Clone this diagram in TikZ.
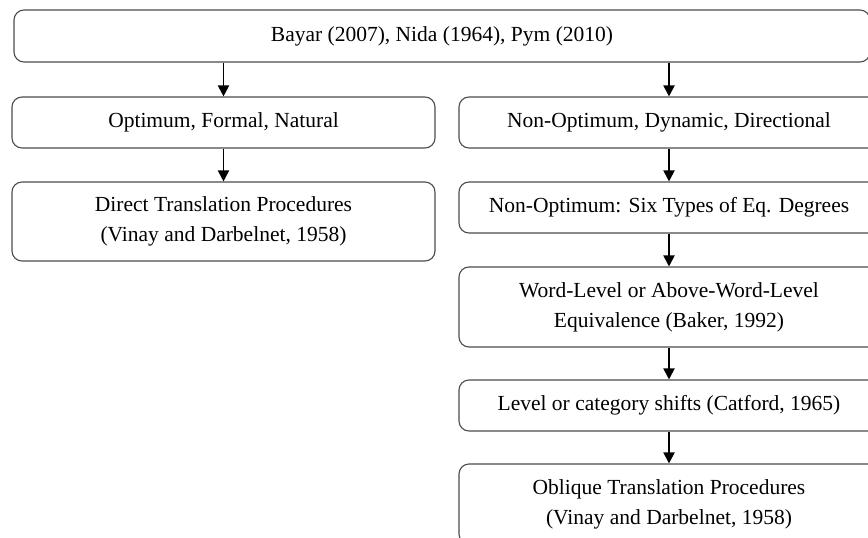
\documentclass[tikz,border=0pt]{standalone}
\usepackage{fontspec}
\setmainfont{Liberation Serif}
\usetikzlibrary{arrows.meta}
\begin{document}
\begin{tikzpicture}[x=1pt,y=-1pt,
  box/.style={draw=black!70, line width=1.1pt, rounded corners=10pt, inner sep=0pt, align=center, font=\fontsize{21.5}{30}\selectfont},
  arr/.style={line width=1.9pt, -{Triangle[width=11pt,length=11pt]}}]
\useasboundingbox (0,0) rectangle (868,538);
\clip (0,0) rectangle (868,538);
\node[box, minimum width=856pt, minimum height=52pt] (top) at (442,36) {Bayar (2007), Nida (1964), Pym (2010)};
\node[box, minimum width=423pt, minimum height=51pt] (l2) at (223.5,122.5) {Optimum, Formal, Natural};
\node[box, minimum width=423pt, minimum height=79pt] (l3) at (223.5,221.5) {Direct Translation Procedures\\(Vinay and Darbelnet, 1958)};
\node[box, minimum width=420pt, minimum height=51pt] (r2) at (669,122.5) {Non-Optimum, Dynamic, Directional};
\node[box, minimum width=420pt, minimum height=51pt] (r3) at (669,207.5) {Non-Optimum: Six Types of Eq. Degrees};
\node[box, minimum width=420pt, minimum height=80pt] (r4) at (669,307) {Word-Level or Above-Word-Level\\Equivalence (Baker, 1992)};
\node[box, minimum width=420pt, minimum height=51pt] (r5) at (669,405.5) {Level or category shifts (Catford, 1965)};
\node[box, minimum width=420pt, minimum height=80pt] (r6) at (669,504) {Oblique Translation Procedures\\(Vinay and Darbelnet, 1958)};
\draw[arr] (top.south -| l2.north) -- (l2.north);
\draw[arr] (top.south -| r2.north) -- (r2.north);
\draw[arr] (l2.south) -- (l3.north);
\draw[arr] (r2.south) -- (r3.north);
\draw[arr] (r3.south) -- (r4.north);
\draw[arr] (r4.south) -- (r5.north);
\draw[arr] (r5.south) -- (r6.north);
\end{tikzpicture}
\end{document}
